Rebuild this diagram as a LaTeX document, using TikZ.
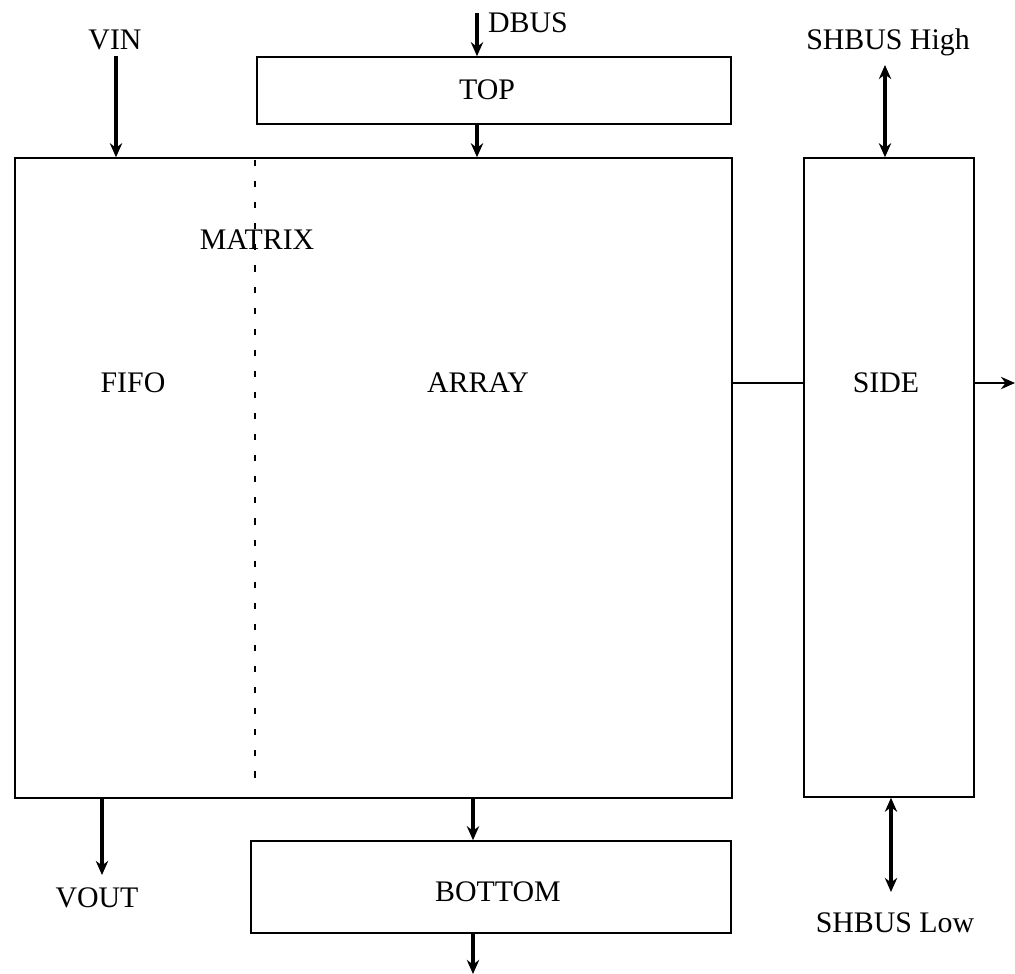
\documentclass[tikz,border=0pt]{standalone}
\usepackage{fontspec}
\setmainfont{Liberation Serif}
\usetikzlibrary{arrows.meta}
\begin{document}
\begin{tikzpicture}[x=0.02cm,y=-0.02cm,
  box/.style={draw,line width=0.9pt,inner sep=0pt,rectangle},
  lbl/.style={inner sep=1pt,font=\fontsize{17}{20}\selectfont},
  arr/.style={line width=1.9pt,-{Stealth[length=8pt,width=7pt]}},
  darr/.style={line width=1.9pt,{Stealth[length=8pt,width=7pt]}-{Stealth[length=8pt,width=7pt]}},
  wire/.style={line width=1.6pt},
  divider/.style={line width=1pt,dash pattern=on 3.5pt off 8.5pt}]
\useasboundingbox (0,0) rectangle (1015,974);
% boxes
\node[box,minimum width=14.34cm,minimum height=12.8cm] (matrix) at (373.5,478) {};
\node[box,minimum width=9.48cm,minimum height=1.34cm] (top) at (494,90.5) {};
\node[box,minimum width=9.6cm,minimum height=1.84cm] (bottom) at (491,887) {};
\node[box,minimum width=3.4cm,minimum height=12.78cm] (side) at (889,477.5) {};
% texts
\node[lbl] (toplbl) at (487,90) {TOP};
\node[lbl] (botlbl) at (498,892) {BOTTOM};
\node[lbl] (sidelbl) at (886,383) {SIDE};
\node[lbl] (fifo) at (133,383) {FIFO};
\node[lbl] (array) at (478,383) {ARRAY};
\node[lbl] (mlbl) at (257,240) {MATRIX};
\node[lbl] (vin) at (115,40) {VIN};
\node[lbl] (vout) at (97,898) {VOUT};
\node[lbl] (dbus) at (528,23) {DBUS};
\node[lbl] (shh) at (888,42) {SHBUS High};
\node[lbl] (shl) at (895,923) {SHBUS Low};
% free ends
\coordinate (dbusin) at (477,13);
\coordinate (vinin) at (116,56);
\coordinate (voutend) at (102,875);
\coordinate (shhend) at (885,65);
\coordinate (shlend) at (891,892);
\coordinate (botout) at (473,974);
\coordinate (sideout) at (1015,383);
\coordinate (divtop) at (255,160);
\coordinate (divbot) at (255,790);
% dashed divider
\draw[divider] (divtop) -- (divbot);
% connectors
\draw[arr] (dbusin) -- (dbusin |- top.north);
\draw[arr] (top.south -| dbusin) -- (dbusin |- matrix.north);
\draw[arr] (vinin) -- (vinin |- matrix.north);
\draw[arr] (voutend |- matrix.south) -- (voutend);
\draw[arr] (matrix.south -| 473,0) -- (bottom.north -| 473,0);
\draw[arr] (bottom.south -| botout) -- (botout);
\draw[darr] (shhend) -- (shhend |- side.north);
\draw[darr] (shlend |- side.south) -- (shlend);
\draw[wire] (matrix.east |- sideout) -- (side.west |- sideout);
\draw[arr,line width=1.2pt] (side.east |- sideout) -- (sideout);
\end{tikzpicture}
\end{document}
